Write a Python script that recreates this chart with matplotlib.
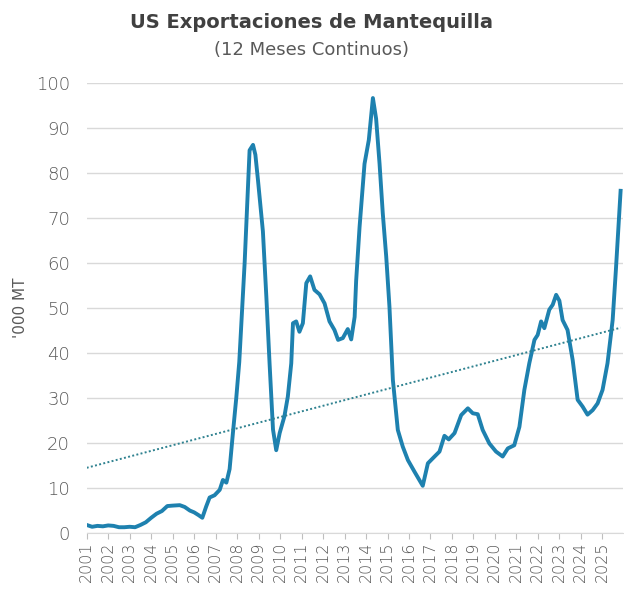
import matplotlib
matplotlib.use("Agg")
import matplotlib.pyplot as plt
import numpy as np

# 12-month rolling US butter exports ('000 MT)
dates = [
    2001.00, 2001.25, 2001.50, 2001.75, 2002.00, 2002.25, 2002.50, 2002.75,
    2003.00, 2003.25, 2003.50, 2003.75, 2004.00, 2004.25, 2004.50, 2004.75,
    2005.00, 2005.33, 2005.56, 2005.80, 2006.00, 2006.20, 2006.38, 2006.56,
    2006.72, 2006.95, 2007.19, 2007.34, 2007.50, 2007.65, 2007.80, 2007.96,
    2008.10, 2008.35, 2008.58, 2008.74, 2008.85, 2008.97, 2009.20, 2009.36,
    2009.51, 2009.67, 2009.82, 2009.98, 2010.20, 2010.36, 2010.52, 2010.60,
    2010.75, 2010.90, 2011.06, 2011.22, 2011.40, 2011.60, 2011.84, 2012.07,
    2012.30, 2012.53, 2012.70, 2012.92, 2013.15, 2013.31, 2013.47, 2013.54,
    2013.70, 2013.93, 2014.13, 2014.32, 2014.47, 2014.63, 2014.78, 2014.94,
    2015.09, 2015.25, 2015.48, 2015.71, 2015.95, 2016.26, 2016.64, 2016.88,
    2017.19, 2017.42, 2017.65, 2017.85, 2018.12, 2018.43, 2018.74, 2018.97,
    2019.20, 2019.43, 2019.74, 2020.05, 2020.36, 2020.60, 2020.90, 2021.14,
    2021.37, 2021.60, 2021.84, 2021.99, 2022.15, 2022.30, 2022.53, 2022.69,
    2022.85, 2023.00, 2023.15, 2023.38, 2023.62, 2023.85, 2024.08, 2024.31,
    2024.55, 2024.78, 2025.01, 2025.24, 2025.48, 2025.63, 2025.75, 2025.85,
]
exports = [
    1.8, 1.4, 1.6, 1.5, 1.7, 1.6, 1.3, 1.3,
    1.4, 1.3, 1.8, 2.4, 3.4, 4.3, 4.9, 6.0,
    6.1, 6.2, 5.8, 5.0, 4.6, 4.0, 3.4, 5.9,
    7.9, 8.4, 9.6, 11.8, 11.2, 14.2, 22.0, 30.0,
    38.0, 60.0, 85.0, 86.2, 84.0, 78.4, 67.0, 52.5,
    37.7, 23.0, 18.4, 22.2, 25.9, 30.3, 37.7, 46.6,
    47.0, 44.7, 46.6, 55.5, 57.0, 54.0, 53.0, 51.0,
    47.0, 45.1, 42.9, 43.3, 45.3, 43.0, 48.0, 56.0,
    68.0, 82.0, 87.3, 96.6, 92.0, 82.0, 71.0, 61.4,
    50.3, 34.0, 22.9, 19.2, 16.2, 13.6, 10.5, 15.5,
    17.0, 18.1, 21.6, 20.8, 22.2, 26.2, 27.7, 26.6,
    26.4, 22.9, 19.9, 18.1, 17.0, 18.8, 19.5, 23.6,
    31.8, 37.7, 42.9, 44.0, 47.0, 45.5, 49.6, 50.7,
    52.9, 51.6, 47.3, 45.1, 38.4, 29.6, 28.1, 26.3,
    27.3, 28.8, 31.8, 37.7, 47.3, 58.4, 68.0, 76.0,
]
# linear trendline end values as drawn on the chart
trend_values = [14.5, 45.6]
years = list(range(2001, 2026))

line_color = "#1E81AF"
trend_color = "#2F8290"
text_color = "#595959"

fig = plt.figure(figsize=(6.24, 5.91), dpi=100)
ax = fig.add_axes([0.139, 0.098, 0.859, 0.762])

ax.plot(dates, exports, color=line_color, lw=2.8, solid_joinstyle="round")
ax.plot([dates[0], dates[-1]], trend_values, color=trend_color, lw=1.4,
        linestyle=(0, (1, 1.2)))

ax.set_xlim(2001, 2025.95)
ax.set_ylim(0, 100)
ax.set_yticks(np.arange(0, 101, 10))
ax.set_xticks(years)
ax.set_xticklabels([str(y) for y in years], rotation=90)
ax.grid(axis="y", color="#D9D9D9", lw=1)
ax.set_axisbelow(True)

for side in ["top", "right", "left"]:
    ax.spines[side].set_visible(False)
ax.spines["bottom"].set_color("#D9D9D9")
ax.tick_params(axis="x", colors="#BFBFBF", length=4, labelsize=11.5,
               labelcolor=text_color, pad=2)
ax.tick_params(axis="y", length=0, labelsize=13, labelcolor=text_color, pad=12)
for lab in ax.get_xticklabels() + ax.get_yticklabels():
    lab.set_fontweight("light")

ax.set_ylabel("'000 MT", color=text_color, fontsize=11, labelpad=6)

fig.text(0.5, 0.962, "US Exportaciones de Mantequilla", ha="center",
         va="center", fontsize=14, fontweight="bold", color="#404040")
fig.text(0.5, 0.915, "(12 Meses Continuos)", ha="center", va="center",
         fontsize=13, color=text_color)

plt.savefig("out.png", dpi=100)
plt.close()
